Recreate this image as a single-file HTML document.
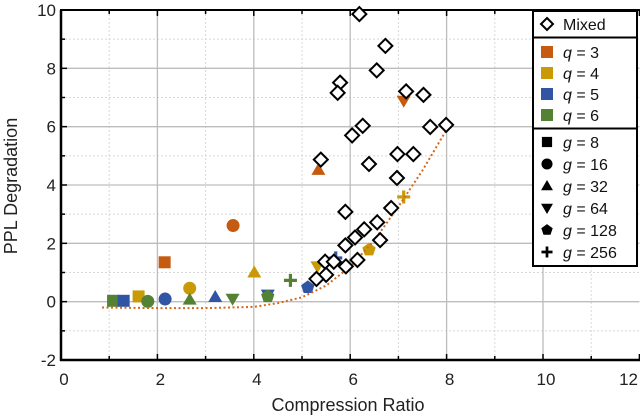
<!DOCTYPE html>
<html><head><meta charset="utf-8"><style>
body{margin:0;background:#fff;}
svg{display:block;font-family:"Liberation Sans",Arial,sans-serif;}
</style></head><body>
<svg id="chart" width="640" height="416" viewBox="0 0 640 416"></svg>
<script>
// ---- data ----
const mixedX = [6.19,6.73,6.55,5.79,5.74,7.16,7.52,7.66,7.99,6.26,6.04,5.39,6.98,7.31,6.39,6.97,5.90,6.85,6.56,6.29,6.10,5.90,6.62,5.48,5.66,5.91,6.15,5.50,5.30];
const mixedY = [9.86,8.77,7.93,7.51,7.16,7.21,7.09,5.99,6.06,6.03,5.70,4.87,5.06,5.06,4.72,4.24,3.08,3.21,2.72,2.48,2.20,1.93,2.11,1.37,1.37,1.21,1.43,0.92,0.78];
const ptQ = [6,5,4,6,3,5,4,6,5,6,3,4,5,6,6,5,4,3,3,4,4,5];
const ptG = [8,8,8,16,8,16,16,32,32,64,16,32,64,128,256,128,64,32,64,256,128,256];
const ptX = [1.08,1.30,1.61,1.80,2.15,2.16,2.67,2.67,3.20,3.56,3.57,4.01,4.29,4.29,4.76,5.12,5.32,5.34,7.11,7.11,6.39,5.70];
const ptY = [0.03,0.03,0.18,0.01,1.35,0.09,0.46,0.07,0.16,0.10,2.61,1.00,0.24,0.18,0.73,0.49,1.21,4.52,6.89,3.59,1.78,1.50];
const fitX = [0.85,2,3,4,4.5,5,5.5,6,6.5,7,7.5,8,8.1];
const fitY = [-0.2,-0.22,-0.22,-0.18,-0.05,0.15,0.55,1.2,2.1,3.26,4.5,5.9,6.15];
const xTicks = [0,2,4,6,8,10,12];
const yTicks = [-2,0,2,4,6,8,10];
const qColors = {3:'#c55a11',4:'#c99a06',5:'#2f55a4',6:'#548235'};

const NS='http://www.w3.org/2000/svg';
const svg=document.getElementById('chart');
const X0=61,X1=639.4,Y0=360,Y1=10;
const xs=v=>X0+(v-0)/(12-0)*(X1-X0);
const ys=v=>Y0-(v+2)/(12)*(Y0-Y1);
function el(t,a,p){const e=document.createElementNS(NS,t);for(const k in a)e.setAttribute(k,a[k]);(p||svg).appendChild(e);return e;}

// grid
const grid=el('g',{});


for(let v=1;v<12;v+=2){el('line',{x1:xs(v),x2:xs(v),y1:Y1,y2:Y0,stroke:'#d8d8d8','stroke-dasharray':'2,2'},grid);}
for(let v=-1;v<10;v+=2){el('line',{x1:X0,x2:X1,y1:ys(v),y2:ys(v),stroke:'#d8d8d8','stroke-dasharray':'2,2'},grid);}
xTicks.forEach(v=>{if(v>0&&v<12)el('line',{x1:xs(v),x2:xs(v),y1:Y1,y2:Y0,stroke:'#bdbdbd','stroke-width':1.3},grid);});
yTicks.forEach(v=>{if(v>-2&&v<10)el('line',{x1:X0,x2:X1,y1:ys(v),y2:ys(v),stroke:'#bdbdbd','stroke-width':1.3},grid);});

// axes
const ax=el('g',{});


el('line',{x1:X0,x2:X0,y1:Y1,y2:Y0+1,stroke:'#000','stroke-width':2.5},ax);
el('line',{x1:X0-1,x2:X1+2,y1:Y0,y2:Y0,stroke:'#000','stroke-width':2.5},ax);
el('line',{x1:X0-1,x2:X1+2,y1:Y1,y2:Y1,stroke:'#000','stroke-width':2},ax);
for(let v=0;v<=12;v++){const L=v%2?4:6;el('line',{x1:xs(v),x2:xs(v),y1:Y0,y2:Y0-L,stroke:'#000','stroke-width':1.5},ax);el('line',{x1:xs(v),x2:xs(v),y1:Y1,y2:Y1+L,stroke:'#000','stroke-width':1.5},ax);}
for(let v=-2;v<=10;v++){const L=v%2?4:6;el('line',{x1:X0,x2:X0+L,y1:ys(v),y2:ys(v),stroke:'#000','stroke-width':1.5},ax);}
xTicks.forEach(v=>{const last=v===12;const t=el('text',{x:last?638:xs(v)+3,y:385,'font-size':17,'text-anchor':last?'end':'middle',fill:'#222'},ax);t.textContent=v;

});
yTicks.forEach(v=>{const t=el('text',{x:56,y:ys(v)+6,'font-size':17,'text-anchor':'end',fill:'#222'},ax);t.textContent=v;

});
const xt=el('text',{x:348,y:411,'font-size':18,'text-anchor':'middle',fill:'#222'});xt.textContent='Compression Ratio';


const yt=el('text',{x:0,y:0,'font-size':18,'text-anchor':'middle',fill:'#222',transform:'translate(17,186) rotate(-90)'});yt.textContent='PPL Degradation';



// markers
function marker(g,cx,cy,fill,parent,s){s=s||1;
  if(g===8)return el('rect',{x:cx-6*s,y:cy-6*s,width:12*s,height:12*s,fill:fill},parent);
  if(g===16)return el('circle',{cx:cx,cy:cy,r:6.5*s,fill:fill},parent);
  if(g===32)return el('polygon',{points:`${cx},${cy-7*s} ${cx+7*s},${cy+5*s} ${cx-7*s},${cy+5*s}`,fill:fill},parent);
  if(g===64)return el('polygon',{points:`${cx-7*s},${cy-5*s} ${cx+7*s},${cy-5*s} ${cx},${cy+7*s}`,fill:fill},parent);
  if(g===128){let p=[];for(let i=0;i<5;i++){const a=-Math.PI/2+i*2*Math.PI/5;p.push((cx+7*s*Math.cos(a)).toFixed(1)+','+(cy+7*s*Math.sin(a)).toFixed(1));}return el('polygon',{points:p.join(' '),fill:fill},parent);}
  if(g===256)return el('path',{d:`M${cx-6.5*s},${cy}H${cx+6.5*s}M${cx},${cy-6.5*s}V${cy+6.5*s}`,stroke:fill,'stroke-width':3.2*s,fill:'none'},parent);
}
const pg=el('g',{});


ptX.forEach((v,i)=>{const m=marker(ptG[i],xs(v),ys(ptY[i]),qColors[ptQ[i]],pg);

});

// fit curve
let d='';fitX.forEach((v,i)=>{d+=(i?'L':'M')+xs(v).toFixed(1)+','+ys(fitY[i]).toFixed(1);});
const fc=el('path',{d:d,fill:'none',stroke:'#d2691e','stroke-width':2,'stroke-dasharray':'2,2.5'});



// mixed diamonds
const mg=el('g',{});


mixedX.forEach((v,i)=>{const cx=xs(v),cy=ys(mixedY[i]);
const m=el('polygon',{points:`${cx},${cy-7} ${cx+7},${cy} ${cx},${cy+7} ${cx-7},${cy}`,fill:'#fff',stroke:'#000','stroke-width':2},mg);

});

// legend
const lg=el('g',{});


el('rect',{x:533,y:11,width:104,height:255,fill:'#fff',stroke:'#000','stroke-width':2},lg);
el('line',{x1:533,x2:637,y1:37.5,y2:37.5,stroke:'#000','stroke-width':2},lg);
el('line',{x1:533,x2:637,y1:128.5,y2:128.5,stroke:'#000','stroke-width':2},lg);
function ltext(y,html,name){const t=el('text',{x:563,y:y+6,'font-size':16,fill:'#111'},lg);t.innerHTML=html;

}
el('polygon',{points:'547,18 553,24 547,30 541,24',fill:'#fff',stroke:'#000','stroke-width':2},lg);
ltext(24,'Mixed','legend-entry-mixed');
[3,4,5,6].forEach((q,i)=>{const y=52+i*21;el('rect',{x:541,y:y-6,width:12,height:12,fill:qColors[q]},lg);ltext(y,'<tspan font-style="italic">q</tspan> = '+q,'legend-entry-q'+q);});
[8,16,32,64,128,256].forEach((g,i)=>{const y=142+i*22;marker(g,547,y,'#000',lg,0.85);ltext(y,'<tspan font-style="italic">g</tspan> = '+g,'legend-entry-g'+g);});
</script>
</body></html>
